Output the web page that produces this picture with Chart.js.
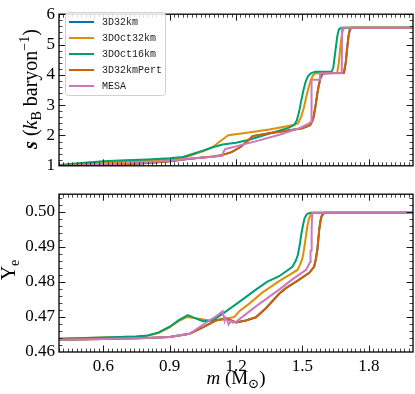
<!DOCTYPE html>
<html>
<head>
<meta charset="utf-8">
<script src="https://cdn.jsdelivr.net/npm/chart.js@4.4.1/dist/chart.umd.min.js"></script>
<style>
  html, body { margin:0; padding:0; background:#fff; }
  #wrap { position:relative; width:415px; height:394px; }
  #sPanel { position:absolute; left:0; top:0; }
  #yePanel { position:absolute; left:0; top:180px; }
</style>
</head>
<body>
<div id="wrap">
  <canvas id="sPanel" width="415" height="180"></canvas>
  <canvas id="yePanel" width="415" height="214"></canvas>
</div>
<script>
const SERIF = "'Liberation Serif', 'DejaVu Serif', serif";
const MONO = "'Liberation Mono', 'DejaVu Sans Mono', monospace";

const COLORS = {
  blue:"#0173b2",
  orange:"#de8f05",
  green:"#029e73",
  red:"#d55e00",
  pink:"#cc78bc"
};

// ---- top panel: entropy s vs enclosed mass m ----
const S_M_32KM   = [0.40,0.50,0.60,0.70,0.80,0.90,0.98,1.05,1.10,1.14,1.18,1.22,1.25,1.275,1.35,1.45,1.50,1.535,1.548,1.553,1.560,1.567,1.574,1.581,1.59,1.60,1.688,1.696,1.702,1.708,1.714,1.722,2.00];
const S_32KM     = [1.00,1.00,1.02,1.05,1.09,1.15,1.22,1.27,1.31,1.36,1.45,1.62,1.80,1.98,2.07,2.18,2.24,2.34,2.52,2.70,3.00,3.35,3.65,3.88,4.02,4.05,4.07,4.40,4.85,5.25,5.48,5.55,5.55];

const S_M_OCT32  = [0.40,0.50,0.60,0.70,0.80,0.90,0.97,1.02,1.06,1.095,1.13,1.165,1.25,1.35,1.455,1.48,1.495,1.507,1.517,1.527,1.537,1.548,1.56,1.657,1.664,1.670,1.676,1.682,1.69,2.00];
const S_OCT32    = [1.00,1.04,1.09,1.13,1.17,1.22,1.27,1.40,1.50,1.62,1.82,2.01,2.09,2.20,2.34,2.40,2.62,2.92,3.25,3.55,3.80,3.98,4.05,4.06,4.35,4.80,5.20,5.45,5.55,5.55];

const S_M_OCT16  = [0.40,0.50,0.60,0.70,0.80,0.90,0.96,1.00,1.05,1.095,1.14,1.20,1.26,1.36,1.44,1.465,1.475,1.485,1.495,1.505,1.515,1.525,1.54,1.56,1.632,1.640,1.646,1.652,1.658,1.665,1.675,2.00];
const S_OCT16    = [1.03,1.09,1.15,1.18,1.21,1.25,1.29,1.38,1.50,1.61,1.70,1.76,1.86,2.08,2.26,2.36,2.50,2.78,3.15,3.50,3.78,3.95,4.06,4.10,4.10,4.25,4.60,4.95,5.28,5.50,5.55,5.55];

const S_M_PERT   = [0.40,0.50,0.60,0.70,0.80,0.90,0.98,1.05,1.10,1.14,1.18,1.22,1.25,1.275,1.35,1.45,1.50,1.535,1.548,1.553,1.560,1.567,1.574,1.581,1.59,1.60,1.688,1.696,1.702,1.708,1.714,1.722,2.00];
const S_PERT     = [1.00,1.00,1.02,1.05,1.09,1.15,1.22,1.27,1.31,1.36,1.45,1.62,1.80,1.98,2.07,2.18,2.24,2.34,2.52,2.70,3.00,3.35,3.65,3.88,4.02,4.05,4.07,4.40,4.85,5.25,5.48,5.55,5.55];

const S_M_MESA   = [0.40,0.50,0.60,0.70,0.80,0.90,0.98,1.05,1.10,1.138,1.143,1.15,1.17,1.20,1.30,1.40,1.49,1.53,1.540,1.5415,1.578,1.5795,1.678,1.6795,2.00];
const S_MESA     = [1.00,1.01,1.04,1.08,1.12,1.17,1.23,1.27,1.30,1.33,1.45,1.54,1.59,1.64,1.83,2.03,2.25,2.40,2.45,3.84,3.84,4.05,4.05,5.55,5.55];

// ---- bottom panel: electron fraction Ye vs m ----
const Y_M_32KM   = [0.40,0.60,0.80,0.90,0.99,1.05,1.11,1.155,1.20,1.245,1.29,1.335,1.395,1.425,1.47,1.53,1.553,1.560,1.568,1.576,1.582,1.588,1.60,2.00];
const YE_32KM    = [0.4635,0.4637,0.4640,0.4643,0.4652,0.4670,0.4690,0.4696,0.4684,0.4690,0.4699,0.4725,0.4766,0.4782,0.4800,0.4825,0.4843,0.4862,0.4893,0.4948,0.4975,0.4989,0.4997,0.4997];

const Y_M_OCT32  = [0.40,0.60,0.75,0.80,0.85,0.90,0.94,0.98,1.02,1.08,1.14,1.193,1.215,1.26,1.32,1.395,1.478,1.490,1.500,1.508,1.516,1.523,1.530,1.538,1.55,2.00];
const YE_OCT32   = [0.4638,0.4641,0.4644,0.4646,0.4654,0.4670,0.4688,0.4700,0.4696,0.4690,0.4693,0.4700,0.4716,0.4738,0.4770,0.4802,0.4834,0.4850,0.4866,0.4895,0.4930,0.4960,0.4980,0.4992,0.4997,0.4997];

const Y_M_OCT16  = [0.40,0.60,0.75,0.80,0.85,0.90,0.94,0.982,1.02,1.05,1.095,1.155,1.215,1.29,1.34,1.395,1.455,1.470,1.480,1.488,1.495,1.503,1.510,1.520,1.535,2.00];
const YE_OCT16   = [0.4638,0.4641,0.4644,0.4647,0.4656,0.4672,0.4690,0.4705,0.4695,0.4688,0.4690,0.4716,0.4743,0.4778,0.4800,0.4816,0.4843,0.4860,0.4878,0.4905,0.4935,0.4962,0.4982,0.4993,0.4997,0.4997];

const Y_M_PERT   = [0.40,0.60,0.80,0.90,0.99,1.05,1.11,1.155,1.20,1.245,1.29,1.335,1.395,1.425,1.47,1.53,1.553,1.560,1.568,1.576,1.582,1.588,1.60,2.00];
const YE_PERT    = [0.4635,0.4637,0.4640,0.4643,0.4652,0.4670,0.4690,0.4696,0.4684,0.4690,0.4699,0.4725,0.4766,0.4782,0.4800,0.4825,0.4843,0.4862,0.4893,0.4948,0.4975,0.4989,0.4997,0.4997];

const Y_M_MESA   = [0.40,0.60,0.80,0.90,0.99,1.065,1.11,1.140,1.145,1.148,1.152,1.160,1.167,1.178,1.185,1.20,1.29,1.395,1.45,1.516,1.530,1.535,1.537,1.540,1.542,1.545,2.00];
const YE_MESA    = [0.4635,0.4637,0.4640,0.4643,0.4652,0.4684,0.4702,0.4716,0.4698,0.4689,0.4698,0.4690,0.4679,0.4689,0.4684,0.4686,0.4730,0.4778,0.4805,0.4834,0.4850,0.4857,0.4888,0.4890,0.4955,0.4997,0.4997];

const M_TICKS  = [0.6,0.9,1.2,1.5,1.8];
const S_TICKS  = [1,2,3,4,5,6];
const YE_TICKS = [0.46,0.47,0.48,0.49,0.50];

const zip = (xs, ys) => xs.map((x,i)=>({ x, y: ys[i] }));

function series(label, color, xs, ys, order){
  return { label, data: zip(xs, ys), borderColor: color, backgroundColor: color,
           borderWidth: 2, pointRadius: 0, tension: 0, order };
}

function sDatasets(){
  return [
    series("3D32km", COLORS.blue, S_M_32KM, S_32KM, 4),
    series("3DOct32km", COLORS.orange, S_M_OCT32, S_OCT32, 3),
    series("3DOct16km", COLORS.green, S_M_OCT16, S_OCT16, 2),
    series("3D32kmPert", COLORS.red, S_M_PERT, S_PERT, 1),
    series("MESA", COLORS.pink, S_M_MESA, S_MESA, 0)
  ];
}
function yeDatasets(){
  return [
    series("3D32km", COLORS.blue, Y_M_32KM, YE_32KM, 4),
    series("3DOct32km", COLORS.orange, Y_M_OCT32, YE_OCT32, 3),
    series("3DOct16km", COLORS.green, Y_M_OCT16, YE_OCT16, 2),
    series("3D32kmPert", COLORS.red, Y_M_PERT, YE_PERT, 1),
    series("MESA", COLORS.pink, Y_M_MESA, YE_MESA, 0)
  ];
}

function range(a, b, div){ const out=[]; for(let i=a;i<=b;i++) out.push(i/div); return out; }

// frame + inward major/minor ticks on all four sides, matplotlib style
const frameTicks = {
  id:"frameTicks",
  afterDatasetsDraw(chart, args, o){
    const { ctx, chartArea:a, scales } = chart;
    const xs = scales.x, ys = scales.y;
    const near = (v, list) => list.some(t => Math.abs(t - v) < 1e-9);
    ctx.save();
    ctx.strokeStyle = "#1a1a1a";
    const tick = (vals, isX, len, lw) => {
      ctx.lineWidth = lw;
      ctx.beginPath();
      vals.forEach(v => {
        if (isX){
          const p = Math.round(xs.getPixelForValue(v)) + 0.5;
          if (p < a.left || p > a.right) return;
          ctx.moveTo(p, a.bottom); ctx.lineTo(p, a.bottom - len);
          ctx.moveTo(p, a.top); ctx.lineTo(p, a.top + len);
        } else {
          const p = Math.round(ys.getPixelForValue(v)) + 0.5;
          if (p < a.top || p > a.bottom) return;
          ctx.moveTo(a.left, p); ctx.lineTo(a.left + len, p);
          ctx.moveTo(a.right, p); ctx.lineTo(a.right - len, p);
        }
      });
      ctx.stroke();
    };
    tick(o.xMinor.filter(v => !near(v, o.xMajor)), true, 3.5, 0.8);
    tick(o.xMajor, true, 6.5, 1);
    tick(o.yMinor.filter(v => !near(v, o.yMajor)), false, 3.5, 0.8);
    tick(o.yMajor, false, 6.5, 1);
    ctx.lineWidth = 1.3;
    ctx.strokeStyle = "#000";
    ctx.strokeRect(a.left, a.top, a.right - a.left, a.bottom - a.top);
    ctx.restore();
  }
};

// rich text with italics / sub / superscripts, optionally rotated
function drawRich(ctx, parts, x, y, rotate, size){
  ctx.save();
  ctx.translate(x, y);
  if (rotate) ctx.rotate(-Math.PI/2);
  const fontFor = p => {
    const s = (p.sub || p.sup) ? size*0.7 : size;
    return `${p.italic ? "italic " : ""}${p.bold ? "bold " : ""}${s}px ${SERIF}`;
  };
  let w = 0;
  parts.forEach(p => { ctx.font = fontFor(p); w += ctx.measureText(p.t).width; });
  let cx = -w/2;
  ctx.fillStyle = "#000";
  ctx.textBaseline = "alphabetic";
  parts.forEach(p => {
    ctx.font = fontFor(p);
    const dy = p.sub ? size*0.22 : p.sup ? -size*0.42 : 0;
    ctx.fillText(p.t, cx, dy);
    cx += ctx.measureText(p.t).width;
  });
  ctx.restore();
}

const titles = {
  id:"titles",
  afterDraw(chart, args, o){
    o.items.forEach(it => drawRich(chart.ctx, it.parts, it.x, it.y, it.rotate, it.size));
  }
};

const boxLegend = {
  id:"boxLegend",
  afterDraw(chart, args, o){
    if (!o.show) return;
    const ctx = chart.ctx;
    ctx.save();
    ctx.beginPath();
    ctx.roundRect(65.5, 12.5, 100, 83, 3);
    ctx.fillStyle = "rgba(255,255,255,0.85)";
    ctx.fill();
    ctx.strokeStyle = "#d0d0d0";
    ctx.lineWidth = 1;
    ctx.stroke();
    ctx.font = `10px ${MONO}`;
    ctx.textBaseline = "middle";
    chart.data.datasets.forEach((ds, i) => {
      const y = 22 + i*16;
      ctx.strokeStyle = ds.borderColor;
      ctx.lineWidth = 2;
      ctx.beginPath(); ctx.moveTo(69, y); ctx.lineTo(94, y); ctx.stroke();
      ctx.fillStyle = "#222";
      ctx.fillText(ds.label, 102, y + 0.5);
    });
    ctx.restore();
  }
};

function yAxis(min, max, ticks, fmt){
  return {
    type:"linear", min, max,
    afterBuildTicks: s => { s.ticks = ticks.map(v => ({ value: v })); },
    afterFit: s => { s.width = 59; },
    grid:{ display:false, drawTicks:false },
    border:{ display:false },
    ticks:{ color:"#000", padding:4, font:{ family:SERIF, size:17 }, callback: fmt }
  };
}

const common = {
  responsive:false,
  animation:false,
  events:[],
  plugins:{ legend:{ display:false }, tooltip:{ enabled:false } }
};

new Chart(document.getElementById("sPanel"), {
  type:"line",
  data:{ datasets: sDatasets() },
  plugins:[frameTicks, boxLegend, titles],
  options:{
    ...common,
    layout:{ autoPadding:false, padding:{ top:6, right:2, bottom:8, left:0 } },
    scales:{
      x:{ type:"linear", min:0.4, max:2.0, display:false },
      y: yAxis(1, 6, S_TICKS, v => String(v))
    },
    plugins:{
      ...common.plugins,
      frameTicks:{ xMajor:M_TICKS, xMinor:range(20,100,50), yMajor:S_TICKS, yMinor:range(5,30,5) },
      boxLegend:{ show:true },
      titles:{ items:[
        { x:37, y:89, rotate:true, size:20, parts:[
          { t:"s", italic:true, bold:true }, { t:" (" }, { t:"k", italic:true }, { t:"B", sub:true },
          { t:" baryon" }, { t:"−1", sup:true }, { t:")" }
        ]}
      ]}
    }
  }
});

new Chart(document.getElementById("yePanel"), {
  type:"line",
  data:{ datasets: yeDatasets() },
  plugins:[frameTicks, titles],
  options:{
    ...common,
    layout:{ autoPadding:false, padding:{ top:8, right:2, bottom:0, left:0 } },
    scales:{
      x:{
        type:"linear", min:0.4, max:2.0,
        afterBuildTicks: s => { s.ticks = M_TICKS.map(v => ({ value: v })); },
        afterFit: s => { s.height = 42; },
        grid:{ display:false, drawTicks:false },
        border:{ display:false },
        ticks:{ color:"#000", padding:4, maxRotation:0, autoSkip:false,
                font:{ family:SERIF, size:17 }, callback: v => v.toFixed(1) }
      },
      y: yAxis(0.46, 0.505, YE_TICKS, v => v.toFixed(2))
    },
    plugins:{
      ...common.plugins,
      frameTicks:{ xMajor:M_TICKS, xMinor:range(20,100,50), yMajor:YE_TICKS, yMinor:range(230,252,500) },
      titles:{ items:[
        { x:15, y:90, rotate:true, size:20, parts:[ { t:"Y" }, { t:"e", sub:true } ] },
        { x:236, y:204, rotate:false, size:19, parts:[
          { t:"m", italic:true }, { t:" (M" }, { t:"⊙", sub:true }, { t:")" }
        ]}
      ]}
    }
  }
});
</script>
</body>
</html>
